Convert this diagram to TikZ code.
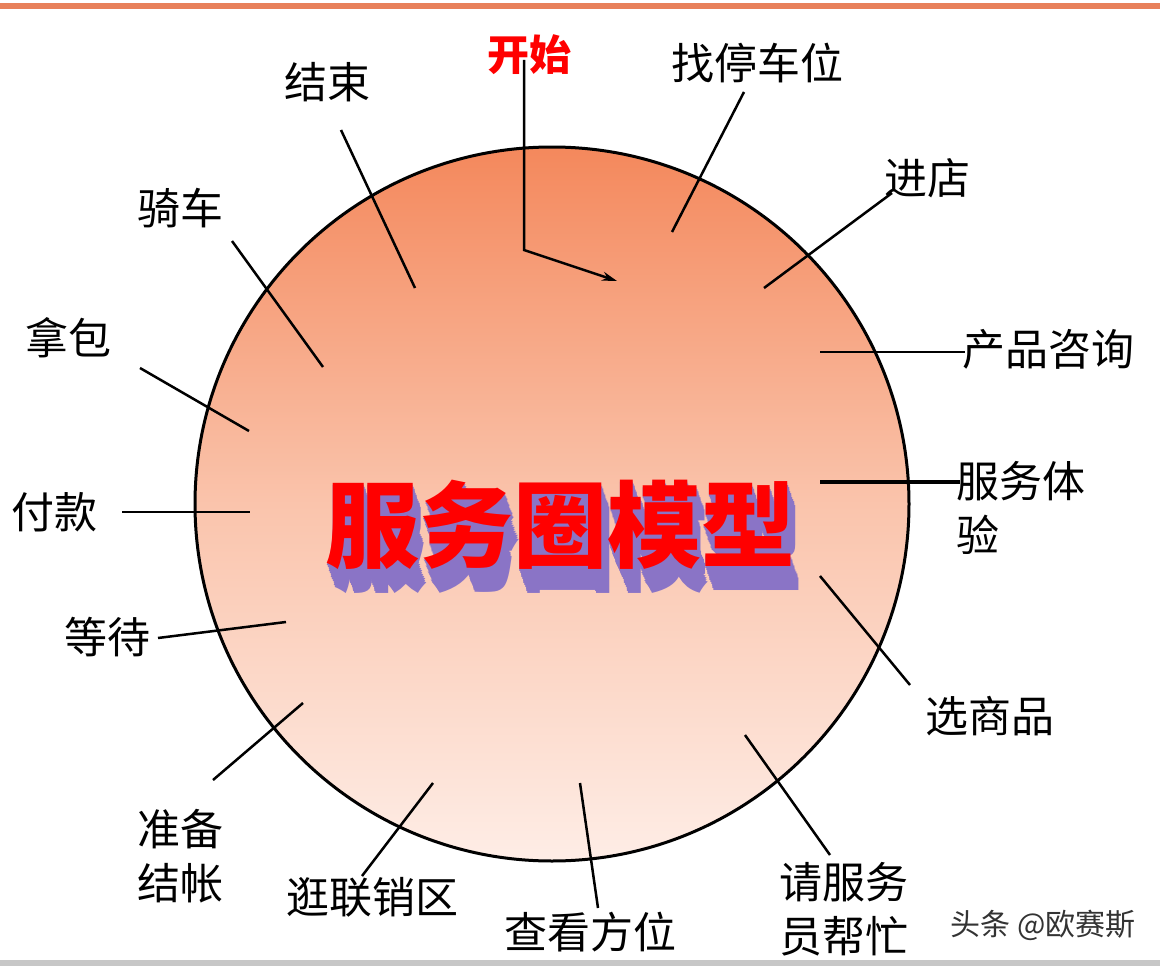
\documentclass[tikz,border=0pt]{standalone}
\usepackage{fontspec}
\setmainfont{Noto Sans CJK SC}
\usetikzlibrary{arrows,arrows.meta,calc}
\definecolor{ringtop}{RGB}{244,136,92}
\definecolor{ringmid}{RGB}{250,196,172}
\definecolor{ringbot}{RGB}{254,237,230}
\definecolor{extrude}{RGB}{138,116,198}
\definecolor{bandorange}{RGB}{232,128,90}
\tikzset{
  lbl/.style={inner sep=0pt, text=black, font=\fontsize{43}{54}\selectfont},
  spoke/.style={line width=2.5pt, black},
  bigword/.style={inner sep=0pt, font=\fontsize{94}{94}\selectfont\bfseries},
}

\begin{document}
\begin{tikzpicture}[x=1pt,y=-1pt]
      \useasboundingbox (0,0) rectangle (1160,966);
      \fill[bandorange] (0,3) rectangle (1160,9); % top band
      \fill[black!22] (0,960) rectangle (1160,966); % bottom band
      \node[circle, draw=black, line width=3pt, minimum size=714pt,
            top color=ringtop, bottom color=ringbot, middle color=ringmid] (ring) at (552,504) {}; % circle

      % title with purple extrusion
      \foreach \k in {1,...,12}
        \node[bigword, text=extrude] (shadow\k) at (560+0.7*\k, 525+2*\k) {服务圈模型};
      \node[bigword, text=red] (title) at (560,525) {服务圈模型};

      % labels round the circle
      \node[lbl, text=red, font=\fontsize{42}{42}\selectfont\bfseries] (start) at (529,55) {开始};
      \node[lbl] (park) at (757,63) {找停车位};
      \node[lbl] (enter) at (927,178) {进店};
      \node[lbl] (ask) at (1048,349) {产品咨询};
      \node[lbl, align=left, anchor=west] (try) at (956,508) {服务体\\验};
      \node[lbl] (pick) at (990,716) {选商品};
      \node[lbl, align=left, anchor=west] (help) at (779,909) {请服务\\员帮忙};
      \node[lbl] (look) at (590,932) {查看方位};
      \node[lbl] (stroll) at (372,897) {逛联销区};
      \node[lbl, align=left, anchor=west] (ready) at (137,856) {准备\\结帐};
      \node[lbl] (wait) at (107,637) {等待};
      \node[lbl] (pay) at (55,512) {付款};
      \node[lbl] (bag) at (68,338) {拿包};
      \node[lbl] (ride) at (180,208) {骑车};
      \node[lbl] (finish) at (327,82) {结束};
      \node[inner sep=0pt, text=black!80, font=\fontsize{30}{30}\selectfont] (mark) at (1043,925) {头条 @欧赛斯}; % watermark

      % spoke end points
      \coordinate (s0) at (524,60);   \coordinate (s0b) at (524,250);  \coordinate (s0c) at (617,281);
      \coordinate (s1) at (744,92);   \coordinate (s1b) at (672,232);
      \coordinate (s2) at (892,193);  \coordinate (s2b) at (764,288);
      \coordinate (s3) at (965,352);  \coordinate (s3b) at (820,352);
      \coordinate (s4) at (960,482);  \coordinate (s4b) at (820,482);
      \coordinate (s5) at (910,685);  \coordinate (s5b) at (820,576);
      \coordinate (s6) at (830,855);  \coordinate (s6b) at (745,735);
      \coordinate (s7) at (598,908);  \coordinate (s7b) at (580,783);
      \coordinate (s8) at (362,876);  \coordinate (s8b) at (433,783);
      \coordinate (s9) at (213,780);  \coordinate (s9b) at (303,703);
      \coordinate (s10) at (158,638); \coordinate (s10b) at (286,622);
      \coordinate (s11) at (122,512); \coordinate (s11b) at (250,512);
      \coordinate (s12) at (140,368); \coordinate (s12b) at (249,431);
      \coordinate (s13) at (232,241); \coordinate (s13b) at (323,367);
      \coordinate (s14) at (341,130); \coordinate (s14b) at (415,288);

      % spokes
      \draw[spoke,-{Stealth[length=15pt,width=9pt]}] (s0) -- (s0b) -- (s0c); % start arrow
      \draw[spoke] (s1) -- (s1b); % park
      \draw[spoke] (s2) -- (s2b); % enter
      \draw[spoke] (s3) -- (s3b); % ask
      \draw[spoke, line width=3.5pt] (s4) -- (s4b); % try
      \draw[spoke] (s5) -- (s5b); % pick
      \draw[spoke] (s6) -- (s6b); % help
      \draw[spoke] (s7) -- (s7b); % look
      \draw[spoke] (s8) -- (s8b); % stroll
      \draw[spoke] (s9) -- (s9b); % ready
      \draw[spoke] (s10) -- (s10b); % wait
      \draw[spoke] (s11) -- (s11b); % pay
      \draw[spoke] (s12) -- (s12b); % bag
      \draw[spoke] (s13) -- (s13b); % ride
      \draw[spoke] (s14) -- (s14b); % finish
\end{tikzpicture}
\end{document}
